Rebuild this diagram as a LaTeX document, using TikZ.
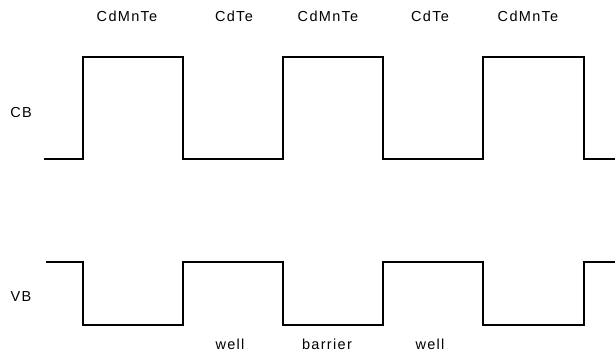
\documentclass[tikz,border=0pt]{standalone}
\usepackage{fontspec}
\setmainfont{Liberation Sans}[LetterSpace=9]
\begin{document}
\begin{tikzpicture}[x=1pt,y=-1pt,
  lbl/.style={font=\fontsize{14.5}{16}\selectfont, inner sep=0pt, anchor=center},
  band/.style={line width=1.8pt, line join=miter, line cap=butt}]
\useasboundingbox (0,0) rectangle (615,356);
% conduction band
\draw[band] (44,159) -- (83,159) -- (83,57) -- (183,57) -- (183,159) -- (283,159)
  -- (283,57) -- (383,57) -- (383,159) -- (483,159) -- (483,57) -- (584,57)
  -- (584,159) -- (615,159);
% valence band
\draw[band] (46,262) -- (83,262) -- (83,325) -- (183,325) -- (183,262) -- (283,262)
  -- (283,325) -- (383,325) -- (383,262) -- (483,262) -- (483,325) -- (584,325)
  -- (584,262) -- (615,262);
% labels
\node[lbl] (m1) at (127,16) {CdMnTe};
\node[lbl] (t1) at (234,16) {CdTe};
\node[lbl] (m2) at (328,16) {CdMnTe};
\node[lbl] (t2) at (430,16) {CdTe};
\node[lbl] (m3) at (528,16) {CdMnTe};
\node[lbl] (cb) at (21,113) {CB};
\node[lbl] (vb) at (21,297) {VB};
\node[lbl] (w1) at (230,344) {well};
\node[lbl] (b1) at (327,344) {barrier};
\node[lbl] (w2) at (430,344) {well};
\end{tikzpicture}
\end{document}
